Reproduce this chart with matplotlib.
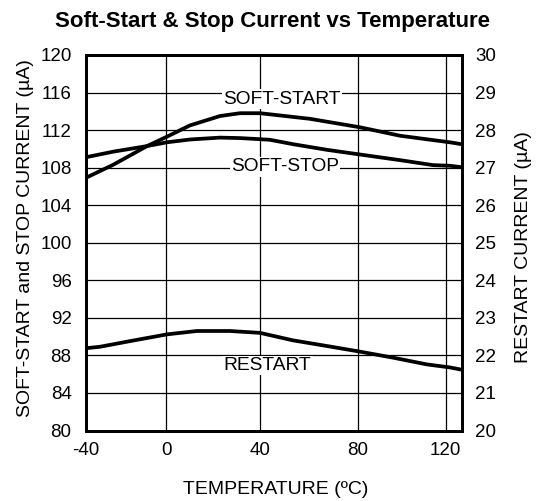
import numpy as np
import matplotlib
matplotlib.use("Agg")
import matplotlib.pyplot as plt

plt.rcParams["font.family"] = ["Liberation Sans", "DejaVu Sans"]
plt.rcParams["axes.unicode_minus"] = False

# temperature (degC) and currents
soft_start_t = [-40, -26.3, -9.4, 0.4, 10.2, 23, 31.5, 40, 60.4, 80.9, 99.2, 122, 127.3]
soft_start_i = [106.9, 108.3, 110.3, 111.3, 112.5, 113.5, 113.8, 113.8, 113.2, 112.3, 111.4, 110.7, 110.5]

soft_stop_t = [-40, -26.3, -9.4, 0.4, 10.2, 23, 31.5, 44, 53.5, 67.3, 80.9, 99.2, 114.3, 122, 127.3]
soft_stop_i = [109.1, 109.7, 110.3, 110.7, 111.0, 111.2, 111.15, 110.97, 110.5, 109.9, 109.4, 108.8,
               108.27, 108.2, 108.05]

restart_t = [-40, -32.8, -17.9, 0.4, 13.2, 27.2, 40, 53.5, 67.3, 80.9, 96, 111.5, 122, 127.3]
restart_i = [22.19, 22.23, 22.38, 22.56, 22.65, 22.65, 22.6, 22.4, 22.25, 22.1, 21.94, 21.76, 21.68, 21.62]

x_ticks = [-40, 0, 40, 80, 120]
left_ticks = list(range(80, 121, 4))
right_ticks = list(range(20, 31))

# the printed temperature grid is not evenly spaced, follow it
scale_t = [-40, 0, 40, 80, 120, 127.3]
scale_px = [0, 80.5, 174.5, 272.5, 360, 376]


def fwd(t):
    return np.interp(t, scale_t, scale_px, left=-1e3, right=1e3)


def inv(p):
    return np.interp(p, scale_px, scale_t)


fig = plt.figure(figsize=(5.45, 5.01), dpi=100)
ax = fig.add_axes([85.5 / 545, 1 - 430.5 / 501, 376 / 545, 375.5 / 501])
ax.set_xscale("function", functions=(fwd, inv))
ax.set_xlim(-40, 127.3)
ax.set_ylim(80, 120)
ax.set_xticks(x_ticks)
ax.set_yticks(left_ticks)
ax.tick_params(axis="y", length=0, labelsize=13.5, pad=10)
ax.tick_params(axis="x", length=0, labelsize=13.5, pad=8)
for x in x_ticks[1:]:
    ax.axvline(x, color="black", lw=0.9, zorder=1)
for y in left_ticks[1:-1]:
    ax.axhline(y, color="black", lw=0.9, zorder=1)
for s in ax.spines.values():
    s.set_linewidth(2)

ax.plot(soft_start_t, soft_start_i, color="black", lw=2.7, zorder=3)
ax.plot(soft_stop_t, soft_stop_i, color="black", lw=2.7, zorder=3)

ax2 = ax.twinx()
ax2.set_ylim(20, 30)
ax2.set_yticks(right_ticks)
ax2.tick_params(length=0, labelsize=13.5, pad=10)
for s in ax2.spines.values():
    s.set_linewidth(2)
ax2.plot(restart_t, restart_i, color="black", lw=2.7, zorder=3)

box = dict(facecolor="white", edgecolor="none", pad=1)
ax2.text(48.9, 20 + (115.3 - 80) / 4, "SOFT-START", ha="center", va="center", fontsize=13.8, bbox=box, zorder=2)
ax2.text(50.2, 20 + (108.1 - 80) / 4, "SOFT-STOP", ha="center", va="center", fontsize=13.8, bbox=box, zorder=2)
ax2.text(43.1, 20 + (86.93 - 80) / 4, "RESTART", ha="center", va="center", fontsize=13.8, bbox=box, zorder=2)

fig.text(272.5 / 545, 1 - 21 / 501, "Soft-Start & Stop Current vs Temperature", ha="center", va="center",
         fontsize=16, fontweight="bold")
fig.text(276 / 545, 1 - 489 / 501, "TEMPERATURE (\u00baC)", ha="center", va="center", fontsize=14)
fig.text(26 / 545, 1 - 238 / 501, "SOFT-START and STOP CURRENT (\u00b5A)", ha="center", va="center",
         rotation=90, fontsize=14)
fig.text(523 / 545, 1 - 247 / 501, "RESTART CURRENT (\u00b5A)", ha="center", va="center",
         rotation=90, fontsize=14)

fig.savefig("out.png", dpi=100)
